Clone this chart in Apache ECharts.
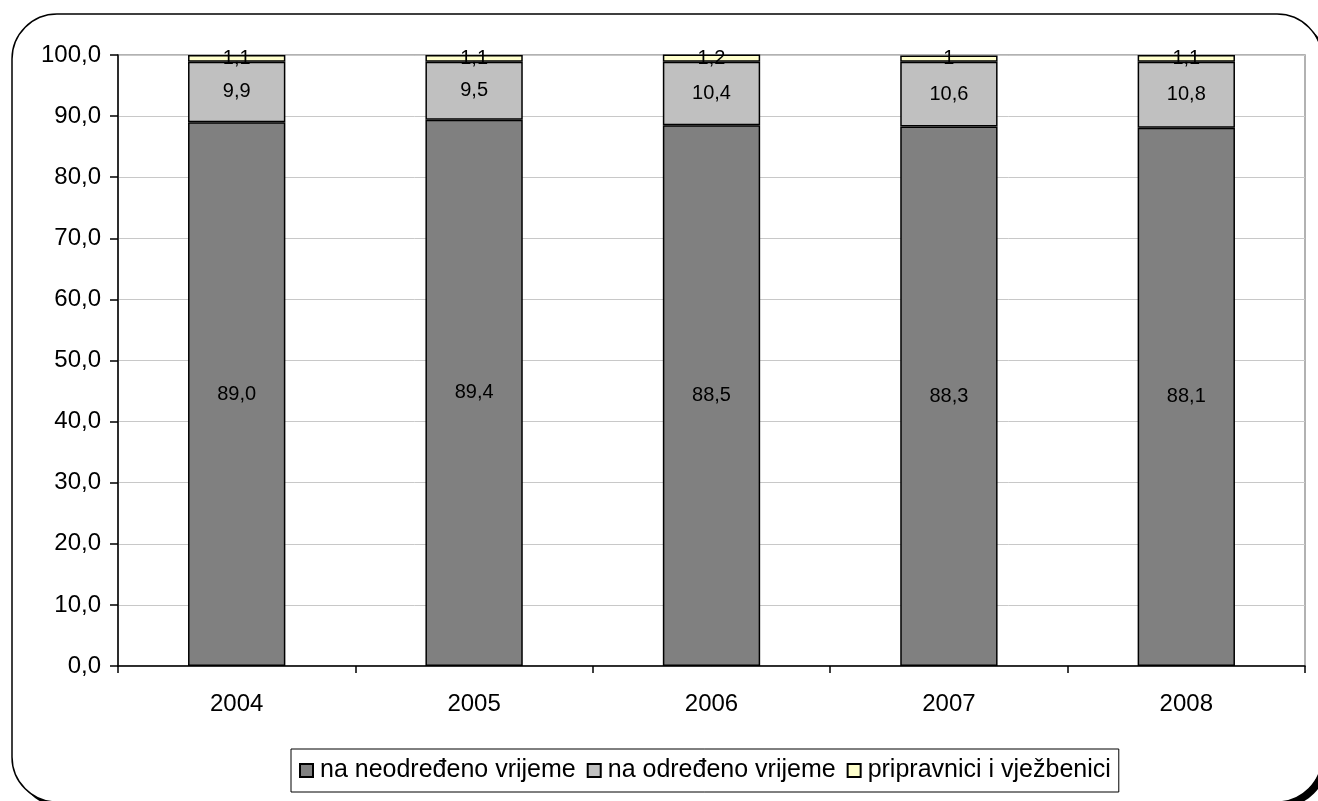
<!DOCTYPE html>
<html>
<head>
<meta charset="utf-8">
<script src="https://cdn.jsdelivr.net/npm/echarts@6/dist/echarts.min.js"></script>
<style>
html,body{margin:0;padding:0;background:#fff;}
#c{width:1318px;height:801px;}
</style>
</head>
<body>
<div id="c"></div>
<script>
var categories = ['2004', '2005', '2006', '2007', '2008'];
var neodredeno = [89.0, 89.4, 88.5, 88.3, 88.1];
var odredeno = [9.9, 9.5, 10.4, 10.6, 10.8];
var pripravnici = [1.1, 1.1, 1.2, 1, 1.1];
var seriesNames = ['na neodređeno vrijeme', 'na određeno vrijeme', 'pripravnici i vježbenici'];
var yTicks = [0, 10, 20, 30, 40, 50, 60, 70, 80, 90, 100];

var FONT = 'Liberation Sans, Arial, sans-serif';
var chart = echarts.init(document.getElementById('c'), null, {renderer: 'canvas'});

function fixed1(p) { return p.value.toFixed(1).replace('.', ','); }
function raw(p) { return String(p.value).replace('.', ','); }

var labelBase = {show: true, color: '#000', fontFamily: FONT, fontSize: 20};

chart.setOption({
  animation: false,
  backgroundColor: 'transparent',
  graphic: [
    {type: 'rect', z: -10, shape: {x: 17, y: 19, width: 1310, height: 788, r: 45}, style: {fill: '#000'}},
    {type: 'rect', z: -9, shape: {x: 12, y: 14, width: 1310, height: 788, r: 45}, style: {fill: '#fff', stroke: '#000', lineWidth: 1.5}}
  ],
  grid: {left: 118, right: 13, top: 55, bottom: 135, show: true, borderColor: '#999', borderWidth: 1.5, backgroundColor: 'transparent'},
  legend: {
    left: 291, top: 749,
    orient: 'horizontal',
    padding: [9, 8, 9, 8],
    borderColor: '#000', borderWidth: 1,
    itemWidth: 13, itemHeight: 13, itemGap: 11,
    icon: 'rect',
    textStyle: {fontFamily: FONT, fontSize: 25, color: '#000', padding: [0, 0, 0, 2]},
    data: seriesNames
  },
  xAxis: {
    type: 'category', data: categories,
    axisLine: {lineStyle: {color: '#000', width: 1.5}},
    axisTick: {show: true, length: 7, lineStyle: {color: '#000', width: 1.5}},
    axisLabel: {fontFamily: FONT, fontSize: 24, color: '#000', margin: 26},
    splitLine: {show: false}
  },
  yAxis: {
    type: 'value', min: 0, max: 100, interval: 10,
    axisLine: {show: true, lineStyle: {color: '#000', width: 1.5}},
    axisTick: {show: true, length: 8, lineStyle: {color: '#000', width: 1.5}},
    axisLabel: {fontFamily: FONT, fontSize: 24, color: '#000', margin: 17,
      formatter: function (v) { return yTicks.indexOf(v) >= 0 ? v.toFixed(1).replace('.', ',') : ''; }},
    splitLine: {show: true, lineStyle: {color: '#c8c8c8', width: 1}}
  },
  series: [
    {name: seriesNames[0], type: 'bar', stack: 's', data: neodredeno, barWidth: '41%',
      itemStyle: {color: '#808080', borderColor: '#000', borderWidth: 1.5},
      label: Object.assign({}, labelBase, {position: 'inside', formatter: fixed1})},
    {name: seriesNames[1], type: 'bar', stack: 's', data: odredeno, barWidth: '41%',
      itemStyle: {color: '#c0c0c0', borderColor: '#000', borderWidth: 1.5},
      label: Object.assign({}, labelBase, {position: 'inside', formatter: fixed1})},
    {name: seriesNames[2], type: 'bar', stack: 's', data: pripravnici, barWidth: '41%', clip: false,
      itemStyle: {color: '#ffffcc', borderColor: '#000', borderWidth: 1.5},
      label: Object.assign({}, labelBase, {position: 'inside', formatter: raw})}
  ]
});
</script>
</body>
</html>
